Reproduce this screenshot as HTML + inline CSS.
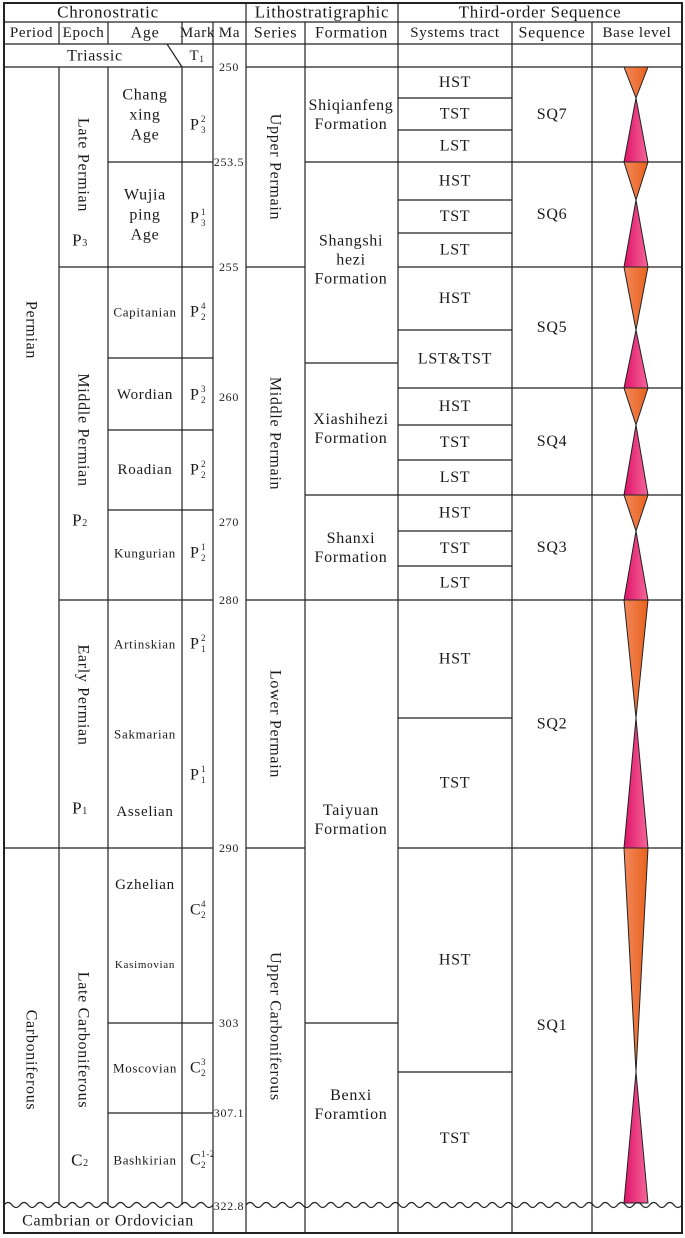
<!DOCTYPE html>
<html><head><meta charset="utf-8"><style>
html,body{margin:0;padding:0;background:#fff;}
svg{display:block;font-family:"Liberation Serif",serif;}
svg text{letter-spacing:0.7px;}
</style></head><body>
<svg id="chart" width="685" height="1238" viewBox="0 0 685 1238" xmlns="http://www.w3.org/2000/svg">
<defs>
<linearGradient id="pinkG" x1="0" x2="1" y1="0" y2="0"><stop offset="0" stop-color="#e0126a"/><stop offset="1" stop-color="#f4679a"/></linearGradient>
<linearGradient id="orgG" x1="0" x2="1" y1="0" y2="0"><stop offset="0" stop-color="#f2875a"/><stop offset="1" stop-color="#e9621c"/></linearGradient>
</defs>
<g id="g"></g>
</svg>
<script>
// column edges
const colX = [4,59,108,182,213,246,305,398,512,592,682];
// Ma labels
const maLabels = ["250","253.5","255","260","270","280","290","303","307.1","322.8"];
const maY = [67,162,267,397,522,600,848,1023,1113,1206];
// age boundaries (age + mark columns)
const ageBounds = [162,267,358,430,510,600,848,1023,1113];
const ageNames = [["Chang","xing","Age"],["Wujia","ping","Age"],["Capitanian"],["Wordian"],["Roadian"],["Kungurian"],["Artinskian"],["Sakmarian"],["Asselian"],["Gzhelian"],["Kasimovian"],["Moscovian"],["Bashkirian"]];
const ageTextY = [115,215,312,395,470,553,644,734,812,885,965,1068,1160];
const ageFont = [16,16,13,15,15,13,13,13,15,15,11,13,13];
const markBase = ["P","P","P","P","P","P","P","P","C","C","C"];
const markSub = ["3","3","2","2","2","2","1","1","2","2","2"];
const markSup = ["2","1","4","3","2","1","2","1","4","3","1-2"];
const markY = [125,218,312,395,470,553,644,775,910,1068,1160];
// series
const seriesNames = ["Upper Permain","Middle Permain","Lower Permain","Upper Carboniferous"];
const seriesBounds = [67,267,600,848,1205];
// formations
const formNames = [["Shiqianfeng","Formation"],["Shangshi","hezi","Formation"],["Xiashihezi","Formation"],["Shanxi","Formation"],["Taiyuan","Formation"],["Benxi","Foramtion"]];
const formBounds = [67,162,363,495,600,1023,1205];
const formTextY = [115,260,429,548,820,1105];
// systems tracts
const tractNames = ["HST","TST","LST","HST","TST","LST","HST","LST&TST","HST","TST","LST","HST","TST","LST","HST","TST","HST","TST"];
const tractBounds = [67,98,130,162,200,233,267,330,388,425,460,495,531,566,600,718,848,1072,1205];
// sequences: top, turn (max flooding), bottom
const seqNames = ["SQ7","SQ6","SQ5","SQ4","SQ3","SQ2","SQ1"];
const seqTop = [67,162,267,388,495,600,848];
const seqTurn = [98,200,330,425,531,718,1072];
const seqBot = [162,267,388,495,600,848,1203];

const NS="http://www.w3.org/2000/svg";
const g=document.getElementById('g');
function el(tag,attrs,parent){const e=document.createElementNS(NS,tag);for(const k in attrs)e.setAttribute(k,attrs[k]);(parent||g).appendChild(e);return e;}
function line(x1,y1,x2,y2,w){return el('line',{x1,y1,x2,y2,stroke:'#222','stroke-width':w||1.2});}
function text(x,y,s,size,rot){const t=el('text',{x,y,'font-size':size||15,'text-anchor':'middle','dominant-baseline':'central',fill:'#1a1a1a'});t.textContent=s;if(rot)t.setAttribute('transform',`rotate(90 ${x} ${y})`);return t;}
function cx(i){return (colX[i]+colX[i+1])/2;}

// headers
let t;
t=text(108,12,"Chronostratic",17);

t=text(322,12,"Lithostratigraphic",17);

t=text(540,12,"Third-order  Sequence",17);

const subH=["Period","Epoch","Age","Mark","Ma","Series","Formation","Systems tract","Sequence","Base level"];
const subHSize=[15,15,16,15,15,16,16,15,16,15];
subH.forEach((s,i)=>{const e=text(cx(i),33,s,subHSize[i]);

});
// header lines
line(4,22,682,22);line(4,44,682,44);
[1,2,3,4,5,6,7,8,9].forEach(i=>line(colX[i],22,colX[i],44));
line(246,3,246,22);line(398,3,398,22);
// Triassic row
line(4,67,213,67);line(246,67,682,67);
text(95,56,"Triassic",16);
const tri=text(197,56,"T",15);const ts=el('tspan',{'font-size':9,dy:3},tri);ts.textContent="1";
line(167,44,182,67);
line(182,67,182,1205);
[5,6,7,8,9].forEach(i=>line(colX[i],44,colX[i],1233));
line(213,44,213,1233);
// period / epoch vertical lines
line(59,67,59,1205);line(108,67,108,1205);
// period rows
line(4,848,108,848);
text(31,330,"Permian",16,true);
text(31,1060,"Carboniferous",16,true);
// epochs
line(59,267,108,267);line(59,600,108,600);
const epochs=[["Late Permian",165,"P","3",240],["Middle Permian",430,"P","2",520],["Early Permian",695,"P","1",808],["Late Carboniferous",1040,"C","2",1160]];
epochs.forEach(e=>{const a=text(83,e[1],e[0],16,true);


const b=text(80,e[4],e[2],17);const s=el('tspan',{'font-size':10,dy:3},b);s.textContent=e[3];});
// age boundaries
ageBounds.forEach(y=>line(108,y,213,y));
ageNames.forEach((lines,i)=>{const n=lines.length;lines.forEach((s,j)=>{const e=text(145,ageTextY[i]+(j-(n-1)/2)*20,s,ageFont[i]);

});});
// marks
markBase.forEach((b,i)=>{const tx=el('text',{x:190,y:markY[i],'font-size':16,'dominant-baseline':'central',fill:'#1a1a1a','text-anchor':'start'});


tx.textContent=b;
const su=el('text',{x:201,y:markY[i]-6,'font-size':9,'dominant-baseline':'central',fill:'#222'});su.textContent=markSup[i];
const sb=el('text',{x:201,y:markY[i]+5,'font-size':9,'dominant-baseline':'central',fill:'#222'});sb.textContent=markSub[i];});
// Ma labels
maLabels.forEach((s,i)=>{const e=el('text',{x:229,y:maY[i],'font-size':12,'text-anchor':'middle','dominant-baseline':'central',fill:'#222'});e.textContent=s;

});
// series
seriesBounds.slice(1,-1).forEach(y=>line(246,y,305,y));
seriesNames.forEach((s,i)=>{const e=text(275,(seriesBounds[i]+seriesBounds[i+1])/2,s,16,true);

});
// formations
formBounds.slice(1,-1).forEach(y=>line(305,y,398,y));
formNames.forEach((lines,i)=>{const n=lines.length;lines.forEach((s,j)=>{const e=text(351,formTextY[i]+(j-(n-1)/2)*19,s,16);

});});
// tracts
tractBounds.slice(1,-1).forEach(y=>line(398,y,512,y));
tractNames.forEach((s,i)=>{const e=text(455,(tractBounds[i]+tractBounds[i+1])/2,s,16);

});
// sequences
seqTop.slice(1).forEach(y=>line(512,y,682,y));
seqNames.forEach((s,i)=>{const e=text(552,(seqTop[i]+seqBot[i])/2,s,16);

});
// base level triangles
const bx=636,hw=12;
seqNames.forEach((s,i)=>{
const o=el('polygon',{points:`${bx-hw},${seqTop[i]} ${bx+hw},${seqTop[i]} ${bx},${seqTurn[i]}`,fill:'url(#orgG)',stroke:'#222','stroke-width':1});


const p=el('polygon',{points:`${bx},${seqTurn[i]} ${bx+hw},${seqBot[i]} ${bx-hw},${seqBot[i]}`,fill:'url(#pinkG)',stroke:'#222','stroke-width':1});

});
// wavy unconformity
function wave(x1,x2,y){const n=Math.max(1,Math.round((x2-x1)/16));const step=(x2-x1)/n;let d=`M${x1},${y}`;for(let k=0;k<n;k++){d+=` q${step/4},-5 ${step/2},0 q${step/4},5 ${step/2},0`;}return el('path',{d,fill:'none',stroke:'#222','stroke-width':1.2});}
const w1=wave(4,213,1205);


const w2=wave(246,682,1205);


text(108,1221,"Cambrian or Ordovician",16);
// outer border
el('rect',{x:4,y:3,width:678,height:1230,fill:'none',stroke:'#222','stroke-width':2});
</script>
</body></html>
